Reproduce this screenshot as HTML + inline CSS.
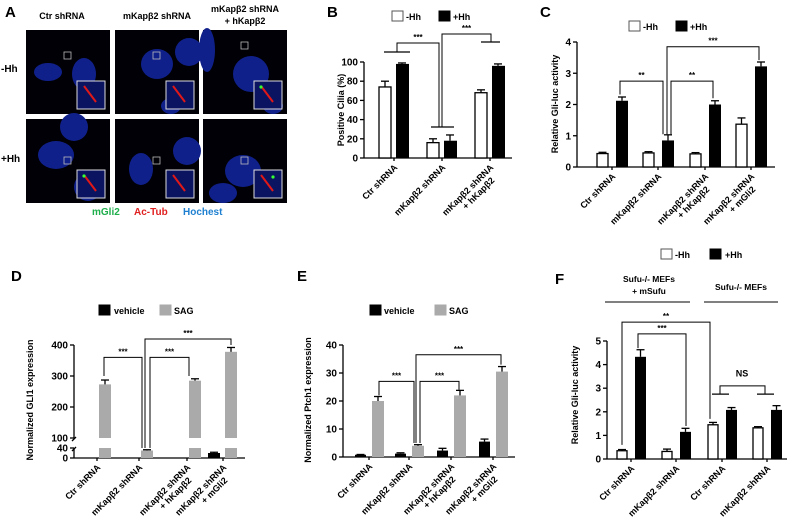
<!DOCTYPE html>
<html><head><meta charset="utf-8"><style>
html,body{margin:0;padding:0;background:#fff;}
svg{display:block;font-family:"Liberation Sans",Arial,sans-serif;}
text{font-weight:bold;}
</style></head><body>
<svg id="fig" width="788" height="524" viewBox="0 0 788 524">
<g id="panelA"></g>
<g id="charts"></g>
</svg>
<script>
// ---- Data ----
const catsB = ["Ctr shRNA", "mKapβ2 shRNA", "mKapβ2 shRNA|+ hKapβ2"];
const bMinus = [74, 16, 68];
const bPlus = [98, 18, 96];
const bMinusErr = [6, 4, 3];
const bPlusErr = [1, 6, 2];
const ticksB = [0, 20, 40, 60, 80, 100];

const catsC = ["Ctr shRNA", "mKapβ2 shRNA", "mKapβ2 shRNA|+ hKapβ2", "mKapβ2 shRNA|+ mGli2"];
const cMinus = [0.43, 0.45, 0.42, 1.37];
const cPlus = [2.12, 0.85, 2.0, 3.22];
const cMinusErr = [0.04, 0.04, 0.04, 0.2];
const cPlusErr = [0.12, 0.18, 0.12, 0.14];
const ticksC = [0, 1, 2, 3, 4];

const catsD = ["Ctr shRNA", "mKapβ2 shRNA", "mKapβ2 shRNA|+ hKapβ2", "mKapβ2 shRNA|+ mGli2"];
const dVehicle = [1, 1, 2, 20];
const dSAG = [273, 30, 285, 378];
const dSAGErr = [14, 3, 6, 14];
const ticksD = [0, 40, 100, 200, 300, 400];

const catsE = ["Ctr shRNA", "mKapβ2 shRNA", "mKapβ2 shRNA|+ hKapβ2", "mKapβ2 shRNA|+ mGli2"];
const eVehicle = [0.8, 1.2, 2.3, 5.5];
const eSAG = [20, 4, 22, 30.5];
const eVehErr = [0.1, 0.3, 0.8, 0.9];
const eSAGErr = [1.6, 0.4, 1.8, 1.8];
const ticksE = [0, 10, 20, 30, 40];

const catsF = ["Ctr shRNA", "mKapβ2 shRNA", "Ctr shRNA", "mKapβ2 shRNA"];
const fMinus = [0.35, 0.32, 1.45, 1.32];
const fPlus = [4.33, 1.15, 2.08, 2.08];
const fMinusErr = [0.05, 0.1, 0.1, 0.05];
const fPlusErr = [0.3, 0.15, 0.1, 0.18];
const ticksF = [0, 1, 2, 3, 4, 5];

const NS = "http://www.w3.org/2000/svg";
const root = document.getElementById('charts');
function mk(tag, attrs, parent, name, txt) {
  const e = document.createElementNS(NS, tag);
  for (const k in attrs) e.setAttribute(k, attrs[k]);
  
  
  if (txt !== undefined) e.textContent = txt;
  (parent || root).appendChild(e);
  return e;
}
function line(x1,y1,x2,y2,name,w){return mk('line',{x1,y1,x2,y2,stroke:'#000','stroke-width':w||1.3},root,name);}
function txt(x,y,s,size,anchor,name,fill,rot){
  const a={x,y,'font-size':size,'text-anchor':anchor||'start',fill:fill||'#000'};
  if(rot!==undefined) a.transform='rotate('+rot+' '+x+' '+y+')';
  return mk('text',a,root,name,s);
}
function errBar(cx,yTop,yErr,name){
  line(cx,yTop,cx,yErr,name);
  line(cx-4,yErr,cx+4,yErr,name+'-cap');
}
function rotLabel(cx,y0,label,name){
  const parts=label.split('|');
  parts.forEach((p,i)=>{
    txt(cx+4+i*1,y0+10+i*13,p,9,'end',name+(i?'-line2':''),'#000',-45);
  });
}
function axisY(x,ticks,yf,top,name){
  line(x,yf(ticks[0]),x,top,name+'-axis');
  ticks.forEach(t=>{
    line(x-4,yf(t),x,yf(t),name+'-tick-'+t);
    txt(x-6,yf(t)+3.5,String(t),10,'end',name+'-tick-label-'+t);
  });
}
function legendBox(x,y,fill,name){
  mk('rect',{x,y,width:11,height:10,fill,stroke:fill==='#fff'?'#555':fill,'stroke-width':1},root,name);
}
function barRect(x,w,yTop,yBot,fill,name){
  return mk('rect',{x,y:Math.min(yTop,yBot),width:w,height:Math.abs(yBot-yTop),fill,stroke:fill==='#fff'?'#000':fill,'stroke-width':fill==='#fff'?1.3:0},root,name);
}
function bracket(x1,y1,x2,y2,top,label,name){
  const p=mk('polyline',{points:`${x1},${y1} ${x1},${top} ${x2},${top} ${x2},${y2}`,fill:'none',stroke:'#000','stroke-width':1},root,name);
  txt((x1+x2)/2,top-3,label,8,'middle',name+'-label');
}

// ---- Panel A ----
(function(){
  const g=document.getElementById('panelA');
  function a(tag,attrs,name,t){const e=document.createElementNS(NS,tag);for(const k in attrs)e.setAttribute(k,attrs[k]);if(t!==undefined)e.textContent=t;g.appendChild(e);return e;}
  a('text',{x:5,y:17,'font-size':15},'panel-label-a','A');
  const cols=[26,115,203], rows=[30,119];
  const heads=[['Ctr  shRNA'],['mKapβ2 shRNA'],['mKapβ2 shRNA','+ hKapβ2']];
  heads.forEach((h,i)=>h.forEach((s,j)=>a('text',{x:cols[i]+42+(i==0?-6:0),y:(h.length>1?12:19)+j*12,'font-size':9,'text-anchor':'middle'},'column-header-'+i,s)));
  a('text',{x:1,y:72,'font-size':10},'row-label-minus-hh','-Hh');
  a('text',{x:1,y:162,'font-size':10},'row-label-plus-hh','+Hh');
  const blobs=[[[22,42,14,9],[58,44,12,16]],[[42,34,16,15],[74,22,14,14],[56,90,10,8]],[[4,20,8,22],[48,44,18,18],[70,78,10,8]],
               [[30,36,18,14],[48,8,14,14],[62,68,14,14]],[[26,50,12,16],[72,32,14,14]],[[40,52,18,16],[20,88,14,10]]];
  let k=0;
  rows.forEach((ry,r)=>cols.forEach((cx,c)=>{
    a('rect',{x:cx,y:ry,width:84,height:84,fill:'#000006'},'micrograph-'+r+'-'+c);
    blobs[k].forEach((b,bi)=>{const yy=Math.min(b[1],84-b[3]);a('ellipse',{cx:cx+b[0],cy:ry+yy,rx:b[2],ry:b[3],fill:'#10208a'},'nucleus-'+k+'-'+bi);});
    a('rect',{x:cx+38,y:ry+22+(r?16:0)+(c==2&&r==0?-10:0),width:7,height:7,fill:'none',stroke:'#bbb','stroke-width':0.8},'roi-box-'+k);
    a('rect',{x:cx+51,y:ry+51,width:28,height:28,fill:'#0a1460',stroke:'#ddd','stroke-width':1},'inset-'+k);
    a('line',{x1:cx+58,y1:ry+56,x2:cx+70,y2:ry+72,stroke:'#e01818','stroke-width':2},'cilium-'+k);
    if((r==1&&c!=1)||(c==2))a('circle',{cx:cx+(c==2&&r==1?70:58),cy:ry+(c==2&&r==1?58:57),r:1.6,fill:'#3f3'},'gli2-dot-'+k);
    k++;
  }));
  a('rect',{x:0,y:203,width:300,height:20,fill:'#fff'},'legend-a-background');
  a('text',{x:92,y:215,'font-size':10,fill:'#1fae4c'},'legend-mgli2','mGli2');
  a('text',{x:134,y:215,'font-size':10,fill:'#e02020'},'legend-ac-tub','Ac-Tub');
  a('text',{x:183,y:215,'font-size':10,fill:'#1e7fd0'},'legend-hochest','Hochest');
})();

// ---- Panel B ----
(function(){
  const x0=364,y0=158,yf=v=>y0-v*0.96;
  txt(327,17,'B',15,'start','panel-label-b');
  legendBox(392,11,'#fff','legend-b-minus-hh');txt(406,20,'-Hh',9,'start','legend-b-minus-hh-label');
  legendBox(439,11,'#000','legend-b-plus-hh');txt(453,20,'+Hh',9,'start','legend-b-plus-hh-label');
  axisY(x0,ticksB,yf,62,'b-y');
  line(x0,y0,512,y0,'b-x-axis');
  txt(344,110,'Positive Cilia (%)',9,'middle','b-y-axis-title','#000',-90);
  const gx=[379,427,475];
  catsB.forEach((c,i)=>{
    barRect(gx[i],12,yf(bMinus[i]),y0,'#fff','b-bar-minus-'+i);
    errBar(gx[i]+6,yf(bMinus[i]),yf(bMinus[i]+bMinusErr[i]),'b-err-minus-'+i);
    barRect(gx[i]+17,13,yf(bPlus[i]),y0,'#000','b-bar-plus-'+i);
    errBar(gx[i]+23,yf(bPlus[i]),yf(bPlus[i]+bPlusErr[i]),'b-err-plus-'+i);
    line(gx[i]+15,y0,gx[i]+15,y0+3,'b-x-tick-'+i);
    rotLabel(gx[i]+15,y0,c,'b-x-label-'+i);
  });
  line(384,52,410,52,'b-sig-group-0');line(431,127,454,127,'b-sig-group-1');line(481,42,500,42,'b-sig-group-2');
  bracket(397,52,439,127,43,'***','b-sig-1');
  bracket(442,127,491,42,34,'***','b-sig-2');
})();

// ---- Panel C ----
(function(){
  const x0=577,y0=167,yf=v=>y0-v*31.25;
  txt(540,17,'C',15,'start','panel-label-c');
  legendBox(629,21,'#fff','legend-c-minus-hh');txt(643,30,'-Hh',9,'start','legend-c-minus-hh-label');
  legendBox(676,21,'#000','legend-c-plus-hh');txt(690,30,'+Hh',9,'start','legend-c-plus-hh-label');
  axisY(x0,ticksC,yf,42,'c-y');
  line(x0,y0,775,y0,'c-x-axis');
  txt(558,104,'Relative Gli-luc activity',9,'middle','c-y-axis-title','#000',-90);
  const gx=[597,643,690,736];
  catsC.forEach((c,i)=>{
    barRect(gx[i],11,yf(cMinus[i]),y0,'#fff','c-bar-minus-'+i);
    errBar(gx[i]+5.5,yf(cMinus[i]),yf(cMinus[i]+cMinusErr[i]),'c-err-minus-'+i);
    barRect(gx[i]+19,12,yf(cPlus[i]),y0,'#000','c-bar-plus-'+i);
    errBar(gx[i]+25,yf(cPlus[i]),yf(cPlus[i]+cPlusErr[i]),'c-err-plus-'+i);
    line(gx[i]+15,y0,gx[i]+15,y0+3,'c-x-tick-'+i);
    rotLabel(gx[i]+15,y0,c,'c-x-label-'+i);
  });
  bracket(620,yf(cPlus[0]+0.2),663,yf(cPlus[1]+0.2),yf(2.75),'**','c-sig-1');
  bracket(671,yf(cPlus[1]+0.2),713,yf(cPlus[2]+0.2),yf(2.75),'**','c-sig-2');
  bracket(667,yf(cPlus[1]+0.2),759,yf(cPlus[3]+0.2),yf(3.85),'***','c-sig-3');
})();

// ---- Panel D ----
(function(){
  const x0=74,y0=458;
  const yf=v=>v<=40?y0-v*0.25:438-(v-100)*0.31;
  txt(11,281,'D',15,'start','panel-label-d');
  legendBox(99,305,'#000','legend-d-vehicle');txt(114,314,'vehicle',9,'start','legend-d-vehicle-label');
  legendBox(160,305,'#aaa','legend-d-sag');txt(174,314,'SAG',9,'start','legend-d-sag-label');
  line(x0,y0,x0,448,'d-y-axis-lower');line(x0,438,x0,345,'d-y-axis-upper');
  line(x0-2,441,x0+2,437,'d-y-break-1');line(x0-2,451,x0+2,447,'d-y-break-2');
  ticksD.forEach(t=>{line(x0-4,yf(t),x0,yf(t),'d-y-tick-'+t);txt(x0-6,yf(t)+3.5,String(t),10,'end','d-y-tick-label-'+t);});
  line(x0,y0,245,y0,'d-x-axis');
  txt(33,400,'Normalized GLI1  expression',9,'middle','d-y-axis-title','#000',-90);
  const gx=[82,124,172,208];
  catsD.forEach((c,i)=>{
    barRect(gx[i],12,yf(dVehicle[i]),y0,'#000','d-bar-vehicle-'+i);
    const sx=gx[i]+17,v=dSAG[i];
    if(v>40){barRect(sx,12,448,y0,'#aaa','d-bar-sag-lower-'+i);barRect(sx,12,yf(v),438,'#aaa','d-bar-sag-'+i);}
    else barRect(sx,12,yf(v),y0,'#aaa','d-bar-sag-'+i);
    errBar(sx+6,yf(v),yf(v+dSAGErr[i]),'d-err-sag-'+i);
    if(i==3)errBar(gx[i]+6,yf(dVehicle[i]),yf(dVehicle[i]+3),'d-err-vehicle-'+i);
    line(gx[i]+15,y0,gx[i]+15,y0+3,'d-x-tick-'+i);
    rotLabel(gx[i]+15,y0,c,'d-x-label-'+i);
  });
  bracket(104,yf(300),142,yf(40),yf(360),'***','d-sig-1');
  bracket(150,yf(40),189,yf(300),yf(360),'***','d-sig-2');
  bracket(145,yf(40),231,yf(400),339,'***','d-sig-3');
})();

// ---- Panel E ----
(function(){
  const x0=343,y0=457,yf=v=>y0-v*2.8;
  txt(297,281,'E',15,'start','panel-label-e');
  legendBox(370,305,'#000','legend-e-vehicle');txt(384,314,'vehicle',9,'start','legend-e-vehicle-label');
  legendBox(435,305,'#aaa','legend-e-sag');txt(449,314,'SAG',9,'start','legend-e-sag-label');
  axisY(x0,ticksE,yf,345,'e-y');
  line(x0,y0,515,y0,'e-x-axis');
  txt(311,400,'Normalized Ptch1  expression',9,'middle','e-y-axis-title','#000',-90);
  const gx=[355,395,437,479];
  catsE.forEach((c,i)=>{
    barRect(gx[i],11,yf(eVehicle[i]),y0,'#000','e-bar-vehicle-'+i);
    errBar(gx[i]+5.5,yf(eVehicle[i]),yf(eVehicle[i]+eVehErr[i]),'e-err-vehicle-'+i);
    barRect(gx[i]+17,12,yf(eSAG[i]),y0,'#aaa','e-bar-sag-'+i);
    errBar(gx[i]+23,yf(eSAG[i]),yf(eSAG[i]+eSAGErr[i]),'e-err-sag-'+i);
    line(gx[i]+14,y0,gx[i]+14,y0+3,'e-x-tick-'+i);
    rotLabel(gx[i]+14,y0,c,'e-x-label-'+i);
  });
  bracket(379,yf(22),414,yf(5),yf(27),'***','e-sig-1');
  bracket(420,yf(5),459,yf(24),yf(27),'***','e-sig-2');
  bracket(416,yf(5),501,yf(33),yf(36.5),'***','e-sig-3');
})();

// ---- Panel F ----
(function(){
  const x0=607,y0=459,yf=v=>y0-v*23.6;
  txt(555,284,'F',15,'start','panel-label-f');
  legendBox(661,249,'#fff','legend-f-minus-hh');txt(675,258,'-Hh',9,'start','legend-f-minus-hh-label');
  legendBox(710,249,'#000','legend-f-plus-hh');txt(725,258,'+Hh',9,'start','legend-f-plus-hh-label');
  txt(649,282,'Sufu-/- MEFs',8.5,'middle','f-group-label-1');txt(649,294,'+ mSufu',8.5,'middle','f-group-label-1-line2');
  line(605,302,690,302,'f-group-line-1',1);
  txt(741,290,'Sufu-/- MEFs',8.5,'middle','f-group-label-2');
  line(704,302,778,302,'f-group-line-2',1);
  axisY(x0,ticksF,yf,341,'f-y');
  line(x0,y0,787,y0,'f-x-axis');
  txt(578,395,'Relative Gli-luc activity',9,'middle','f-y-axis-title','#000',-90);
  const gx=[617,662,708,753];
  catsF.forEach((c,i)=>{
    barRect(gx[i],10,yf(fMinus[i]),y0,'#fff','f-bar-minus-'+i);
    errBar(gx[i]+5,yf(fMinus[i]),yf(fMinus[i]+fMinusErr[i]),'f-err-minus-'+i);
    barRect(gx[i]+18,11,yf(fPlus[i]),y0,'#000','f-bar-plus-'+i);
    errBar(gx[i]+23.5,yf(fPlus[i]),yf(fPlus[i]+fPlusErr[i]),'f-err-plus-'+i);
    line(gx[i]+14,y0,gx[i]+14,y0+3,'f-x-tick-'+i);
    rotLabel(gx[i]+14,y0,c,'f-x-label-'+i);
  });
  bracket(622,yf(0.6),710,yf(1.7),yf(5.8),'**','f-sig-1');
  bracket(638,yf(4.7),686,yf(1.4),yf(5.3),'***','f-sig-2');
  line(712,yf(2.75),729,yf(2.75),'f-ns-group-1');line(757,yf(2.75),774,yf(2.75),'f-ns-group-2');
  bracket(720,yf(2.75),765,yf(2.75),yf(3.1),'',"f-ns-bracket");
  txt(742,yf(3.5),'NS',9,'middle','f-ns-label');
})();
</script>
</body></html>
